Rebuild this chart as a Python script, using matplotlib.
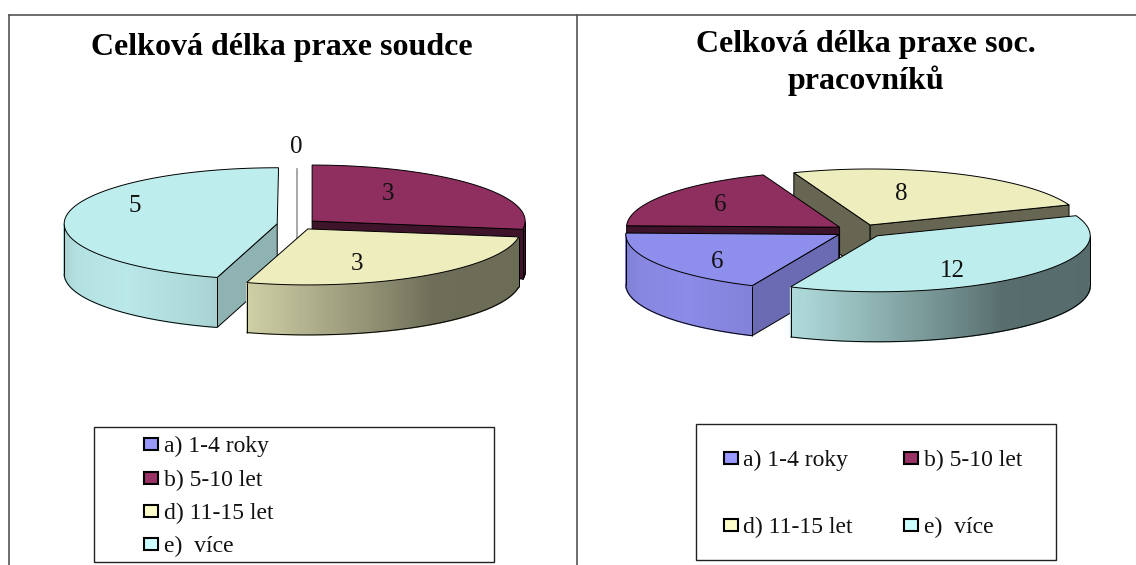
import numpy as np
import matplotlib
matplotlib.use('Agg')
import matplotlib.pyplot as plt
from matplotlib.patches import Polygon, Rectangle

# data
kategorie = ['a) 1-4 roky', 'b) 5-10 let', 'd) 11-15 let', 'e)  více']
soudce = [0, 3, 3, 5]
soc_prac = [6, 6, 8, 12]
barvy = ['#9999ff', '#993366', '#ffffcc', '#ccffff']

titul_1 = 'Celková délka praxe soudce'
titul_2 = 'Celková délka praxe soc.\npracovníků'

# layout, image pixels
RX, RY = 213, 56
VYSKA = 50
FONT = 'Liberation Serif'


def mix(barva, k):
    return tuple(np.array(matplotlib.colors.to_rgb(barva)) * k)


def stin_boku(a):
    # brightness of the rim depends on where it faces
    return np.interp(a % 360, [90, 144, 200, 225, 250, 275], [.42, .43, .84, .91, .88, .8])


def bod(x0, y0, a, r=1.0):
    a = np.radians(a)
    return x0 + r * RX * np.sin(a), y0 - r * RY * np.cos(a)


def radialni_stena(ax, x0, y0, a, barva, k, z):
    x1, y1 = bod(x0, y0, a)
    ax.add_patch(Polygon([(x0, y0), (x1, y1), (x1, y1 + VYSKA), (x0, y0 + VYSKA)],
                         closed=True, fc=mix(barva, k), ec='black', lw=0.7, zorder=z))


def vysec(ax, cx, cy, explode, a0, a1, barva, z):
    mid = np.radians((a0 + a1) / 2)
    x0 = cx + explode * np.sin(mid)
    y0 = cy - explode * RY / RX * np.cos(mid)

    if np.sin(np.radians(a0)) < -0.01:
        radialni_stena(ax, x0, y0, a0, barva, .7 if (a0 % 360) < 230 else .4, z)
    if np.sin(np.radians(a1)) > 0.01:
        radialni_stena(ax, x0, y0, a1, barva, .4, z)

    # rim, only the front half of the ellipse
    uhly = np.arange(a0, a1 + 0.5, 0.5)
    predni = [u for u in uhly if np.cos(np.radians(u)) < 0]
    for u1, u2 in zip(predni[:-1], predni[1:]):
        x1, y1 = bod(x0, y0, u1)
        x2, y2 = bod(x0, y0, u2)
        c = mix(barva, stin_boku((u1 + u2) / 2))
        ax.add_patch(Polygon([(x1, y1), (x2, y2), (x2, y2 + VYSKA), (x1, y1 + VYSKA)],
                             closed=True, fc=c, ec=c, lw=1.0, zorder=z))
    if predni:
        xs, ys = bod(x0, y0, np.array(predni))
        ax.plot(xs, ys + VYSKA, color='black', lw=0.7, zorder=z + 0.1, solid_capstyle='butt')
        ax.plot([xs[0], xs[0]], [ys[0], ys[0] + VYSKA], color='black', lw=0.7, zorder=z + 0.1,
                solid_capstyle='butt')
        ax.plot([xs[-1], xs[-1]], [ys[-1], ys[-1] + VYSKA], color='black', lw=0.7, zorder=z + 0.1,
                solid_capstyle='butt')

    xs, ys = bod(x0, y0, uhly)
    ax.add_patch(Polygon(np.column_stack([np.r_[x0, xs], np.r_[y0, ys]]), closed=True,
                         fc=mix(barva, .93), ec='black', lw=0.7, zorder=z + 0.2))


def kolac(ax, hodnoty, cx, cy, explode, start, poradi):
    celkem = float(sum(hodnoty))
    a = start
    rozsahy = []
    for h in hodnoty:
        rozsahy.append((a, a + h / celkem * 360))
        a = a + h / celkem * 360
    for z, i in enumerate(poradi):
        if hodnoty[i] == 0:
            # empty slice shows up only as a thin wall
            ax.plot([cx, cx], [cy - RY, cy + VYSKA], color='#999999', lw=1.2, zorder=z + 1)
            continue
        vysec(ax, cx, cy, explode, rozsahy[i][0], rozsahy[i][1], barvy[i], z + 1)


def legenda(ax, box, radky):
    ax.add_patch(Rectangle((box[0], box[1]), box[2] - box[0], box[3] - box[1],
                           fc='white', ec='#222222', lw=1.0, zorder=20))
    for kat, barva, (x, y) in zip(kategorie, barvy, radky):
        ax.add_patch(Rectangle((x, y - 6), 14, 12, fc=barva, ec='black', lw=1.5, zorder=21))
        ax.text(x + 19.5, y + 2, kat, family=FONT, fontsize=17, va='center', ha='left', zorder=21,
                color='#111111')


fig = plt.figure(figsize=(11.36, 5.65), dpi=100)
ax = fig.add_axes([0, 0, 1, 1])
ax.set_xlim(0, 1136)
ax.set_ylim(565, 0)
ax.axis('off')

# table borders
ax.plot([9, 9], [14.5, 565], color='#555555', lw=1.2)
ax.plot([577, 577], [14.5, 565], color='#555555', lw=1.2)
ax.plot([9, 1136], [14.5, 14.5], color='#555555', lw=1.2)

ax.text(281.5, 48, titul_1, family=FONT, fontsize=23, fontweight='bold', ha='center', va='center')
ax.text(866, 63, titul_2, family=FONT, fontsize=23, fontweight='bold', ha='center', va='center',
        linespacing=1.27)

kolac(ax, soudce, 297, 224.5, 20, 0, [0, 1, 3, 2])
kolac(ax, soc_prac, 860, 231, 25, 204, [2, 1, 0, 3])

popisky_1 = [(296, 147), (388, 194), (357, 264), (135, 206)]
popisky_2 = [(717, 262), (720, 205), (901, 194), (952, 271)]
for hodnoty, popisky in [(soudce, popisky_1), (soc_prac, popisky_2)]:
    for h, (x, y) in zip(hodnoty, popisky):
        ax.text(x, y, str(h), family=FONT, fontsize=18, ha='center', va='center', zorder=15,
                color='#111111')

legenda(ax, (93.5, 427, 494, 562), [(144, 444), (144, 478), (144, 511), (144, 544)])
legenda(ax, (696, 424, 1056, 560), [(723.5, 458), (904, 458), (723.5, 525), (904, 525)])

fig.savefig('out.png', dpi=100)
